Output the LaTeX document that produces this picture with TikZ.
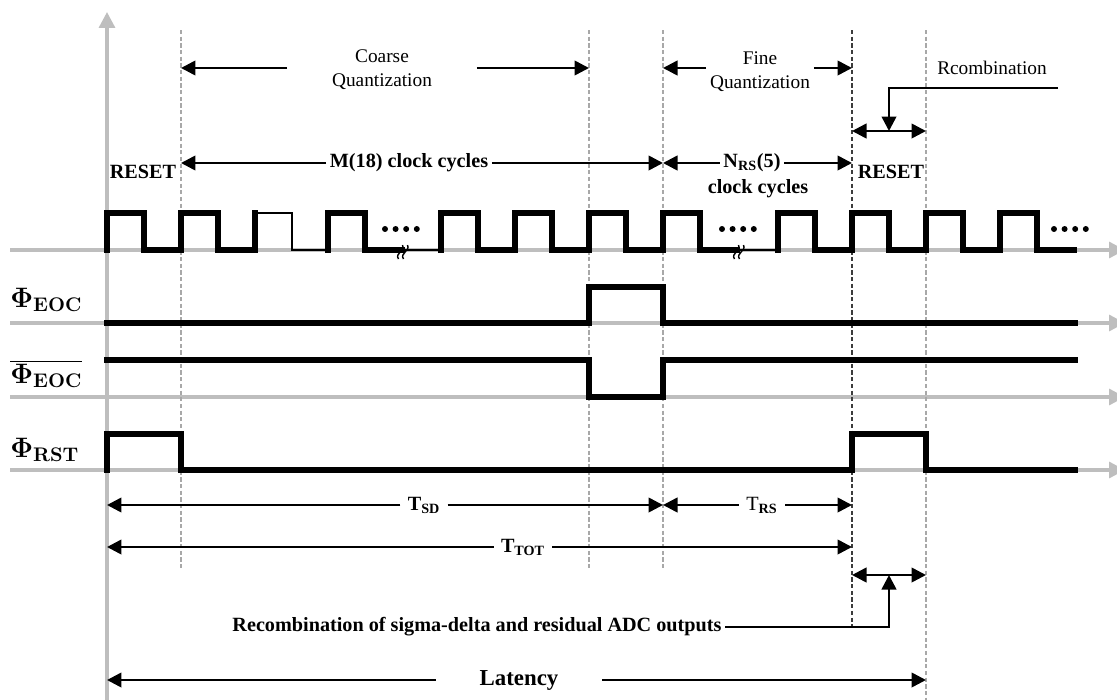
\RequirePackage{fix-cm}
\documentclass[tikz,border=0pt]{standalone}
\usepackage[no-math]{fontspec}
\setmainfont{Liberation Serif}
\usetikzlibrary{arrows.meta,positioning,calc}
\definecolor{axisgray}{RGB}{190,190,190}
\definecolor{guidegray}{RGB}{168,168,168}
\definecolor{guidedark}{RGB}{60,60,60}
\tikzset{
  axis/.style={draw=axisgray, line width=1.9pt, -{Triangle[length=3.2mm,width=3.2mm]}},
  wave/.style={line width=3pt, line cap=rect},
  thinwave/.style={line width=1.3pt},
  guide/.style={draw=guidegray, line width=1.4pt, dash pattern=on 2.4pt off 1.4pt},
  guidek/.style={guide, draw=guidedark},
  dim/.style={-{Triangle[length=2.9mm,width=2.9mm]}, line width=1.5pt},
  ddim/.style={{Triangle[length=2.9mm,width=2.9mm]}-{Triangle[length=2.9mm,width=2.9mm]}, line width=1.5pt},
  brk/.style={line width=0.8pt},
  txt/.style={font=\fontsize{11}{13.5}\selectfont, align=center, inner sep=2pt},
  btxt/.style={font=\fontsize{11.5}{11.5}\selectfont\bfseries, align=center, inner sep=2pt},
  tlbl/.style={btxt, inner sep=4pt},
  sig/.style={font=\fontsize{16}{17}\selectfont, inner sep=0pt, anchor=base west},
}

\begin{document}
\begin{tikzpicture}[x=0.02cm, y=-0.02cm]
  \useasboundingbox (0,0) rectangle (1117,700);
  % time marks
  \coordinate (t0) at (107,0);
  \coordinate (t1) at (181,0);
  \coordinate (t2) at (589,0);
  \coordinate (t3) at (663,0);
  \coordinate (t4) at (852,0);
  \coordinate (t5) at (926,0);

  % axes and guides
  \draw[axis] (t0 |- 0,705) -- (t0 |- 0,12);
  \foreach \y in {250,323,397,470}
    \draw[axis] (10,\y) -- (1125,\y);
  \foreach \t in {t1,t2,t3}
    \draw[guide] (\t |- 0,30) -- (\t |- 0,568);
  \draw[guidek] (t4 |- 0,30) -- (t4 |- 0,628);
  \draw[guide] (t5 |- 0,30) -- (t5 |- 0,700);

  % clock
  \foreach \x in {107,181,328,441,515,589,663,778,852,926,1000}
    \draw[wave] (\x,250) -- (\x,213) -- ++(37,0) -- ++(0,37) -- ++(37,0);
  \draw[wave] (255,250) -- (255,213);
  \draw[thinwave] (255,213) -- (292,213) -- (292,250) -- (328,250);
  \draw[thinwave] (402,250) -- (441,250);
  \draw[thinwave] (738,250) -- (778,250);
  \foreach \x in {385,722,1054}
    \foreach \d in {0,1,2,3}
      \fill ({\x+\d*10.6},229) circle (1.7pt);
  % break marks
  \foreach \x in {403,739}
    \foreach \dx in {-2.5,2.5}
      \draw[brk] ({\x+\dx-2},259) .. controls ({\x+\dx-6},253) and ({\x+\dx+5},251) .. ({\x+\dx+2},245);

  % phase signals
  \draw[wave] (t0 |- 0,323) -- (t2 |- 0,323) -- (t2 |- 0,287) -- (t3 |- 0,287) -- (t3 |- 0,323) -- (1075,323);
  \draw[wave] (t0 |- 0,360) -- (t2 |- 0,360) -- (t2 |- 0,397) -- (t3 |- 0,397) -- (t3 |- 0,360) -- (1075,360);
  \draw[wave] (t0 |- 0,470) -- (t0 |- 0,434) -- (t1 |- 0,434) -- (t1 |- 0,470) -- (t4 |- 0,470)
    -- (t4 |- 0,434) -- (t5 |- 0,434) -- (t5 |- 0,470) -- (1075,470);

  \node[sig] (peoc) at (10,307) {$\mathbf{\Phi_{EOC}}$};
  \node[sig] (peocb) at (10,383) {$\overline{\mathbf{\Phi_{EOC}}}$};
  \node[sig] (prst) at (10,457) {$\mathbf{\Phi_{RST}}$};

  % phase labels on top
  \node[txt] (coarse) at (382,70) {Coarse\\Quantization};
  \draw[dim] ($(coarse.west)+(-41,-2)$) -- (t1 |- 0,68);
  \draw[dim] ($(coarse.east)+(41,-2)$) -- (t2 |- 0,68);
  \node[txt] (fine) at (760,72) {Fine\\Quantization};
  \draw[dim] (fine.west |- 0,68) -- (t3 |- 0,68);
  \draw[dim] (fine.east |- 0,68) -- (t4 |- 0,68);
  \node[txt] (rcomb) at (992,68) {Rcombination};
  \coordinate (rk) at (1058,88);
  \draw[ddim] (t4 |- 0,131) -- coordinate[midway] (rtop) (t5 |- 0,131);
  \draw[dim] (rk) -| (rtop);

  \node[btxt] (rst1) at (143,172) {RESET};
  \node[btxt] (rst2) at (891,172) {RESET};
  \node[btxt] (mcyc) at (409,163) {M(18) clock cycles};
  \draw[dim] (mcyc.west) -- (mcyc.west -| t1);
  \draw[dim] (mcyc.east) -- (mcyc.east -| t3);
  \node[btxt] (nrs) at (752,163) {N\textsubscript{RS}(5)};
  \node[btxt, below=0pt of nrs, xshift=0.12cm] (nrsb) {clock cycles};
  \draw[dim] (nrs.west) -- (nrs.west -| t3);
  \draw[dim] (nrs.east) -- (nrs.east -| t4);

  % durations
  \node[tlbl] (tsd) at (424,505) {T\textsubscript{SD}};
  \draw[dim] (tsd.west) -- (tsd.west -| t0);
  \draw[dim] (tsd.east) -- (tsd.east -| t3);
  \node[tlbl, font=\fontsize{11.5}{11.5}\selectfont] (trs) at (762,505) {T\textsubscript{\textbf{RS}}};
  \draw[dim] (trs.west) -- (trs.west -| t3);
  \draw[dim] (trs.east) -- (trs.east -| t4);
  \node[tlbl] (ttot) at (523,547) {T\textsubscript{TOT}};
  \draw[dim] (ttot.west) -- (ttot.west -| t0);
  \draw[dim] (ttot.east) -- (ttot.east -| t4);

  \node[btxt] (recomb) at (477,627) {Recombination of sigma-delta and residual ADC outputs};
  \draw[ddim] (t4 |- 0,575) -- coordinate[midway] (rbot) (t5 |- 0,575);
  \draw[dim] (recomb.east) -| (rbot);

  \node[btxt, font=\fontsize{13}{13}\selectfont\bfseries] (lat) at (519,680) {Latency};
  \draw[dim] ($(lat.west)+(-40,0)$) -- (t0 |- lat.west);
  \draw[dim] ($(lat.east)+(40,0)$) -- (t5 |- lat.east);
\end{tikzpicture}
\end{document}
